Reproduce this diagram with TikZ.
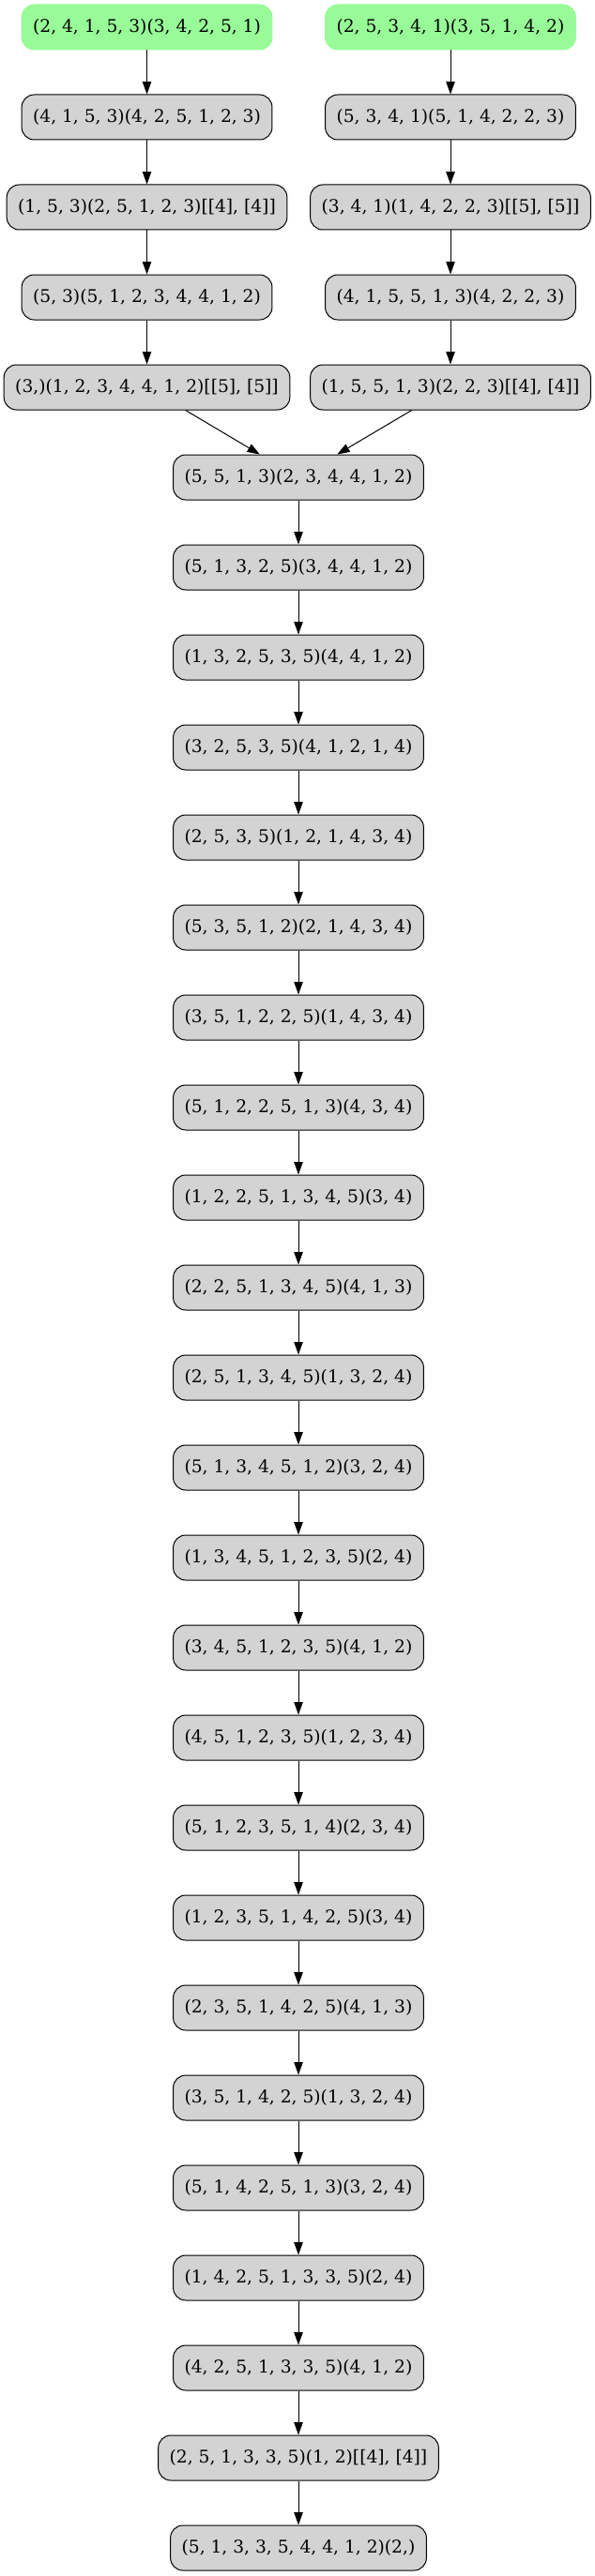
\documentclass[tikz,border=0pt]{standalone}
\usepackage{fontspec}
\setmainfont{DejaVu Serif}
\usepackage{tikz}
\usetikzlibrary{calc}
\usetikzlibrary{arrows.meta}

\definecolor{stategray}{HTML}{D3D3D3}
\definecolor{startgreen}{HTML}{98FB98}

\tikzset{
    state/.style={draw, fill=stategray, line width=.75pt, rounded corners=10pt,
        minimum height=36pt, inner xsep=9pt, font=\fontsize{14pt}{17pt}\selectfont},
    start/.style={state, draw=startgreen, fill=startgreen},
    link/.style={-{Triangle[length=10pt,width=7pt]}, line width=.75pt}
}

\begin{document}
\begin{tikzpicture}
            \useasboundingbox (0,0) rectangle (475.5pt,-2060.25pt);

            % the two starting branches
            \node[start] (l1) at (117.4pt,-21.75pt) {(2, 4, 1, 5, 3)(3, 4, 2, 5, 1)};
            \node[start] (r1) at (360pt,-21.75pt) {(2, 5, 3, 4, 1)(3, 5, 1, 4, 2)};
            \foreach \lbl [count=\k from 2] in {{(4, 1, 5, 3)(4, 2, 5, 1, 2, 3)},
                {(1, 5, 3)(2, 5, 1, 2, 3)[[4], [4]]},{(5, 3)(5, 1, 2, 3, 4, 4, 1, 2)},
                {(3,)(1, 2, 3, 4, 4, 1, 2)[[5], [5]]}}{
                \node[state] (l\k) at (117.4pt,{-21.75pt-(\k-1)*72pt}) {\lbl};
            }
            \foreach \lbl [count=\k from 2] in {{(5, 3, 4, 1)(5, 1, 4, 2, 2, 3)},
                {(3, 4, 1)(1, 4, 2, 2, 3)[[5], [5]]},{(4, 1, 5, 5, 1, 3)(4, 2, 2, 3)},
                {(1, 5, 5, 1, 3)(2, 2, 3)[[4], [4]]}}{
                \node[state] (r\k) at (360pt,{-21.75pt-(\k-1)*72pt}) {\lbl};
            }

            % the merged chain
            \foreach \lbl [count=\k] in {{(5, 5, 1, 3)(2, 3, 4, 4, 1, 2)},{(5, 1, 3, 2, 5)(3, 4, 4, 1, 2)},
                {(1, 3, 2, 5, 3, 5)(4, 4, 1, 2)},{(3, 2, 5, 3, 5)(4, 1, 2, 1, 4)},
                {(2, 5, 3, 5)(1, 2, 1, 4, 3, 4)},{(5, 3, 5, 1, 2)(2, 1, 4, 3, 4)},
                {(3, 5, 1, 2, 2, 5)(1, 4, 3, 4)},{(5, 1, 2, 2, 5, 1, 3)(4, 3, 4)},
                {(1, 2, 2, 5, 1, 3, 4, 5)(3, 4)},{(2, 2, 5, 1, 3, 4, 5)(4, 1, 3)},
                {(2, 5, 1, 3, 4, 5)(1, 3, 2, 4)},{(5, 1, 3, 4, 5, 1, 2)(3, 2, 4)},
                {(1, 3, 4, 5, 1, 2, 3, 5)(2, 4)},{(3, 4, 5, 1, 2, 3, 5)(4, 1, 2)},
                {(4, 5, 1, 2, 3, 5)(1, 2, 3, 4)},{(5, 1, 2, 3, 5, 1, 4)(2, 3, 4)},
                {(1, 2, 3, 5, 1, 4, 2, 5)(3, 4)},{(2, 3, 5, 1, 4, 2, 5)(4, 1, 3)},
                {(3, 5, 1, 4, 2, 5)(1, 3, 2, 4)},{(5, 1, 4, 2, 5, 1, 3)(3, 2, 4)},
                {(1, 4, 2, 5, 1, 3, 3, 5)(2, 4)},{(4, 2, 5, 1, 3, 3, 5)(4, 1, 2)},
                {(2, 5, 1, 3, 3, 5)(1, 2)[[4], [4]]},{(5, 1, 3, 3, 5, 4, 4, 1, 2)(2,)}}{
                \node[state] (m\k) at (238.5pt,{-21.75pt-(\k+4)*72pt}) {\lbl};
            }

            \foreach \i [evaluate=\i as \j using int(\i-1)] in {2,...,5}{
                \draw[link] (l\j) -- (l\i);
                \draw[link] (r\j) -- (r\i);
            }
            \draw[link] (l5) -- (m1);
            \draw[link] (r5) -- (m1);
            \foreach \i [evaluate=\i as \j using int(\i-1)] in {2,...,24}
                \draw[link] (m\j) -- (m\i);

        \end{tikzpicture}
\end{document}
